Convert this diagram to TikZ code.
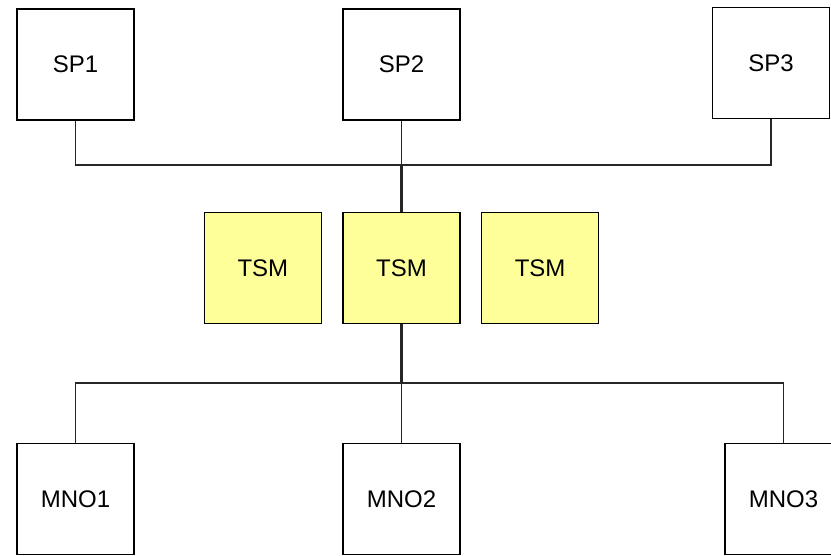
\documentclass[tikz,border=0pt]{standalone}
\usepackage{fontspec}
\setmainfont{Liberation Sans}
\usetikzlibrary{positioning}
\definecolor{tsmyellow}{RGB}{255,255,153}
\tikzstyle{entity} = [rectangle, minimum width=117pt, minimum height=111pt, inner sep=0pt, text centered, draw=black, line width=1.6pt, font=\fontsize{24}{28}\selectfont]
\tikzstyle{tsm} = [entity, fill=tsmyellow]
\tikzstyle{link} = [line width=1.7pt, black!85]

\begin{document}
\begin{tikzpicture}[x=1pt, y=-1pt]
\clip (0,0) rectangle (831,555);
\useasboundingbox (0,0) rectangle (831,555);

% Nodes
\node (sp1) [entity] at (75.5,64.5) {\raisebox{-2pt}{SP1}};
\node (sp2) [entity] at (401.5,64.5) {\raisebox{-2pt}{SP2}};
\node (sp3) [entity] at (771,63) {\raisebox{-2pt}{SP3}};

\node (tsm2) [tsm] at (401.5,268) {\raisebox{-2pt}{TSM}};
\node (tsm1) [tsm, left=20pt of tsm2] {\raisebox{-2pt}{TSM}};
\node (tsm3) [tsm, right=20pt of tsm2] {\raisebox{-2pt}{TSM}};

\node (mno1) [entity] at (75.5,499) {MNO1};
\node (mno2) [entity] at (401.5,499) {MNO2};
\node (mno3) [entity] at (783.5,499) {MNO3};

\coordinate (topbus) at (401.5,165);
\coordinate (lowbus) at (401.5,383);

% Lines
\draw [link] (sp1.south) |- (topbus) -| (sp3.south);
\draw [link] (sp2.south) -- (topbus);
\draw [link, line width=2.6pt] (topbus) -- (tsm2.north);
\draw [link] (mno1.north) |- (lowbus) -| (mno3.north);
\draw [link, line width=2.2pt] (tsm2.south) -- (lowbus);
\draw [link, line width=1pt] (lowbus) -- (mno2.north);

\end{tikzpicture}
\end{document}
